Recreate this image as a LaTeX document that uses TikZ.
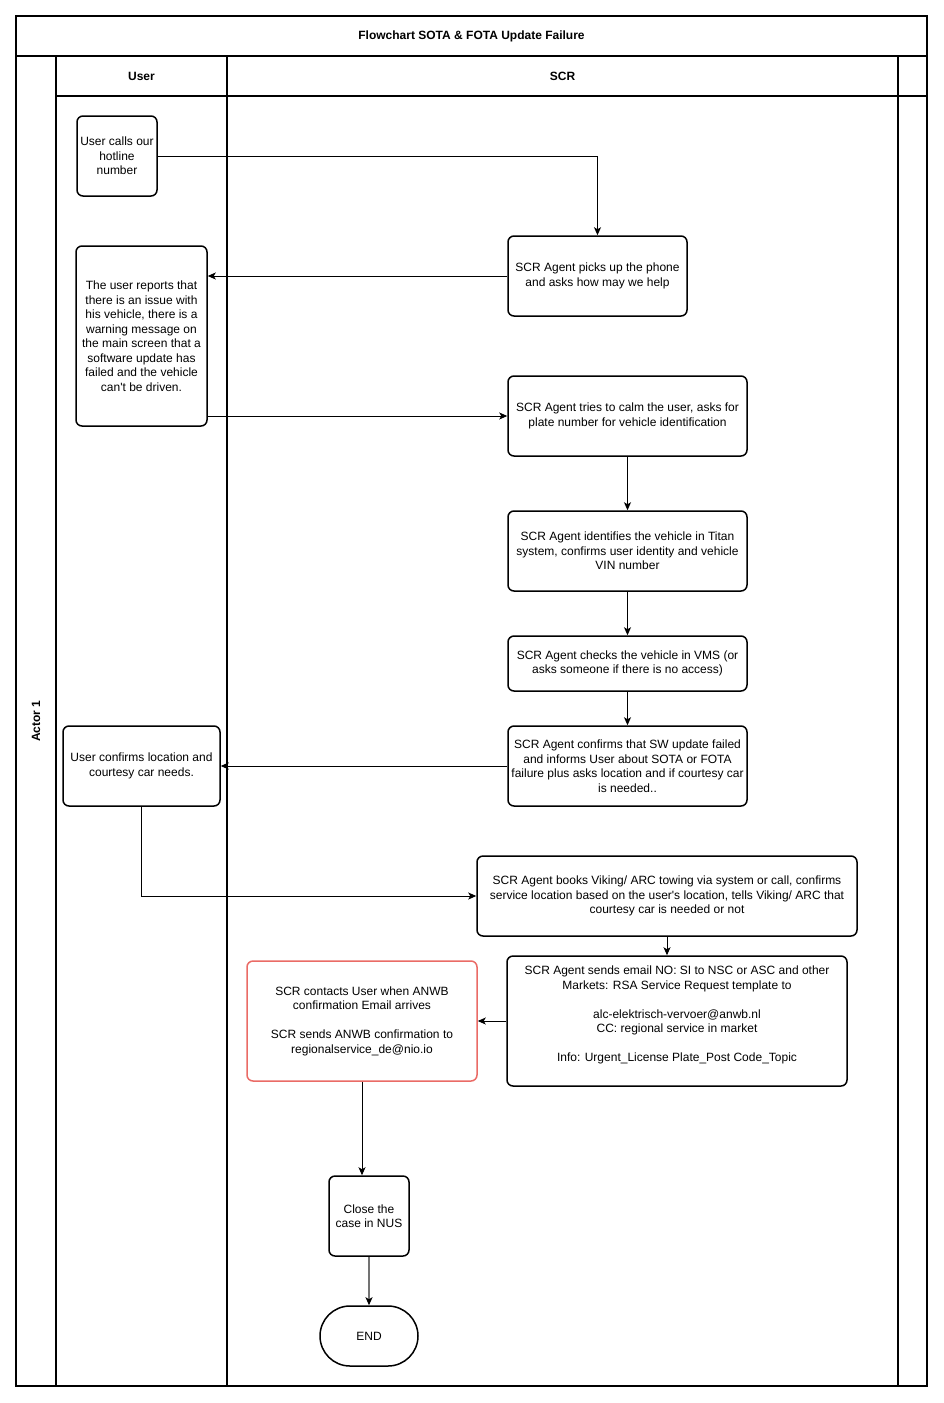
\documentclass[tikz,border=0pt]{standalone}
\usepackage{fontspec}
\setmainfont{Liberation Sans}
\usetikzlibrary{arrows.meta}
\definecolor{redline}{HTML}{EA6B66}
\tikzset{
  box/.style={draw, line width=1.5pt, rounded corners=6pt, fill=white, align=center, inner sep=0pt, font=\fontsize{12}{14.5}\selectfont},
  lane/.style={line width=1.2pt},
  arr/.style={line width=1pt, -{Stealth[length=8pt,width=7pt,inset=2pt]}},
  greyarr/.style={line width=1.5pt, draw=gray!90!black, -{Stealth[length=8pt,width=7pt,inset=2pt,color=black]}},
  hdr/.style={font=\fontsize{12}{14.5}\selectfont\bfseries}
}
\begin{document}
\begin{tikzpicture}[x=1pt,y=-1pt]
\useasboundingbox (0,0) rectangle (944,1403);
% pool frame
\draw[lane] (16,16) rectangle (927,1386);
\draw[lane] (16,56) -- (927,56);
\draw[lane] (56,56) -- (56,1386);
\draw[lane] (227,56) -- (227,1386);
\draw[lane] (898,56) -- (898,1386);
\draw[lane] (56,96) -- (927,96);
\node[hdr] (title) at (471.5,36) {Flowchart SOTA \& FOTA Update Failure};
\node[hdr] (huser) at (141.5,76) {User};
\node[hdr] (hscr) at (562.5,76) {SCR};
\node[hdr, rotate=90] (actor) at (36,721) {Actor 1};
% nodes
\node[box, minimum width=80pt, minimum height=80pt] (A) at (117,156) {User calls our\\hotline\\number};
\node[box, minimum width=179pt, minimum height=80pt] (B) at (597.5,276) {SCR Agent picks up the phone\\and asks how may we help};
\node[box, minimum width=131pt, minimum height=180pt] (C) at (141.5,336) {The user reports that\\there is an issue with\\his vehicle, there is a\\warning message on\\the main screen that a\\software update has\\failed and the vehicle\\can\textquotesingle t be driven.};
\node[box, minimum width=239pt, minimum height=80pt] (D) at (627.5,416) {SCR Agent tries to calm the user, asks for\\plate number for vehicle identification};
\node[box, minimum width=239pt, minimum height=80pt] (E) at (627.5,551) {SCR Agent identifies the vehicle in Titan\\system, confirms user identity and vehicle\\VIN number};
\node[box, minimum width=239pt, minimum height=55pt] (F) at (627.5,663.5) {SCR Agent checks the vehicle in VMS (or\\asks someone if there is no access)};
\node[box, minimum width=239pt, minimum height=80pt] (G) at (627.5,766) {SCR Agent confirms that SW update failed\\and informs User about SOTA or FOTA\\failure plus asks location and if courtesy car\\is needed..};
\node[box, minimum width=157pt, minimum height=80pt] (H) at (141.5,766) {User confirms location and\\courtesy car needs.};
\node[box, minimum width=380pt, minimum height=80pt] (I) at (667,896) {SCR Agent books Viking/ ARC towing via system or call, confirms\\service location based on the user\textquotesingle s location, tells Viking/ ARC that\\courtesy car is needed or not};
\node[box, minimum width=340pt, minimum height=130pt] (J) at (677,1021) {SCR Agent sends email NO: SI to NSC or ASC and other\\Markets: RSA Service Request template to\\\mbox{}\\alc-elektrisch-vervoer@anwb.nl\\CC: regional service in market\\\mbox{}\\Info: Urgent\_License Plate\_Post Code\_Topic\\\mbox{}};
\node[box, draw=redline, minimum width=230pt, minimum height=120pt] (K) at (362,1021) {SCR contacts User when ANWB\\confirmation Email arrives\\\mbox{}\\SCR sends ANWB confirmation to\\regionalservice\_de@nio.io};
\node[box, minimum width=80pt, minimum height=80pt] (L) at (369,1216) {Close the\\case in NUS};
\node[box, rounded corners=30pt, minimum width=98pt, minimum height=60pt] (M) at (369,1336) {END};
% connectors
\draw[arr] (A.east) -| (B.north);
\draw[arr] (B.west) -- (B.west -| C.east);
\draw[arr] (C.east |- D.west) -- (D.west);
\draw[arr] (D.south) -- (E.north);
\draw[arr] (E.south) -- (F.north);
\draw[arr] (F.south) -- (G.north);
\draw[arr] (G.west) -- (H.east);
\draw[arr] (H.south) |- (I.west);
\draw[arr] (I.south) -- (I.south |- J.north);
\draw[arr] (J.west) -- (K.east);
\draw[arr] (K.south) -- (K.south |- L.north);
\draw[greyarr] (L.south) -- (M.north);
\end{tikzpicture}
\end{document}
